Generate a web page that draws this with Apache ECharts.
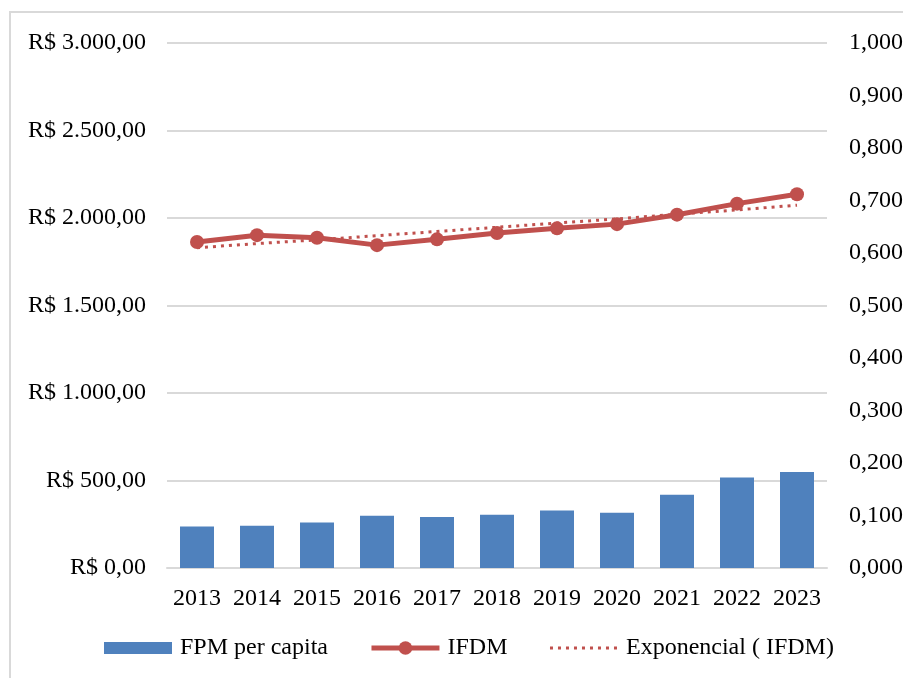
<!DOCTYPE html>
<html>
<head>
<meta charset="utf-8">
<script src="https://cdn.jsdelivr.net/npm/echarts@6/dist/echarts.min.js"></script>
<style>
  html, body { margin: 0; padding: 0; background: #fff; }
  #chart { width: 903px; height: 678px; }
</style>
</head>
<body>
<div id="chart"></div>
<script>
// Years on the category axis
const years = ['2013', '2014', '2015', '2016', '2017', '2018', '2019', '2020', '2021', '2022', '2023'];
// FPM per capita (R$)
const fpmPerCapita = [237, 241, 260, 298, 291, 304, 329, 316, 418, 517, 548];
// IFDM index
const ifdm = [0.621, 0.634, 0.629, 0.615, 0.626, 0.638, 0.647, 0.655, 0.673, 0.694, 0.712];
// Exponential trend line of IFDM
const ifdmTrend = [0.610, 0.618, 0.625, 0.633, 0.641, 0.649, 0.657, 0.665, 0.674, 0.682, 0.691];

const FONT = '"Liberation Serif", "Times New Roman", serif';
const BLUE = '#4f81bd';
const RED = '#c0504d';
const GRID = '#d9d9d9';

function brl(v) {
  const s = Math.round(v).toString().replace(/\B(?=(\d{3})+(?!\d))/g, '.');
  return 'R$ ' + s + ',00';
}

const chart = echarts.init(document.getElementById('chart'), null, { renderer: 'canvas' });
chart.setOption({
  animation: false,
  backgroundColor: '#ffffff',
  textStyle: { fontFamily: FONT, color: '#000' },
  graphic: [{
    type: 'rect',
    shape: { x: 10, y: 12, width: 900, height: 680 },
    style: { fill: 'none', stroke: GRID, lineWidth: 2 },
    silent: true
  }],
  grid: { left: 167, right: 76, top: 43, bottom: 110, containLabel: false, outerBoundsMode: 'none' },
  legend: {
    left: 104,
    top: 636,
    padding: 0,
    itemWidth: 68,
    itemHeight: 17,
    itemGap: 41,
    symbolKeepAspect: true,
    textStyle: { fontFamily: FONT, fontSize: 24, color: '#000', padding: [0, 0, 0, 3] },
    data: [
      { name: 'FPM per capita', icon: 'path://M0,0L68,0L68,12L0,12Z' },
      { name: 'IFDM', lineStyle: { width: 5 } },
      { name: 'Exponencial ( IFDM)', lineStyle: { width: 3 }, itemStyle: { opacity: 0 } }
    ]
  },
  xAxis: {
    type: 'category',
    data: years,
    axisLine: { show: true, lineStyle: { color: GRID, width: 2 } },
    axisTick: { show: false },
    axisLabel: { fontFamily: FONT, fontSize: 24, color: '#000', margin: 19, interval: 0 }
  },
  yAxis: [{
    type: 'value',
    min: 0, max: 3000, interval: 500,
    axisLine: { show: false },
    axisTick: { show: false },
    splitLine: { lineStyle: { color: GRID, width: 2 } },
    axisLabel: { fontFamily: FONT, fontSize: 24, color: '#000', margin: 21, formatter: brl }
  }, {
    type: 'value',
    min: 0, max: 1, interval: 0.1,
    position: 'right',
    axisLine: { show: false },
    axisTick: { show: false },
    splitLine: { show: false },
    axisLabel: {
      fontFamily: FONT, fontSize: 24, color: '#000', margin: 22,
      formatter: v => v.toFixed(3).replace('.', ',')
    }
  }],
  series: [{
    name: 'FPM per capita',
    type: 'bar',
    data: fpmPerCapita,
    barWidth: 34,
    itemStyle: { color: BLUE },
    yAxisIndex: 0
  }, {
    name: 'Exponencial ( IFDM)',
    type: 'line',
    data: ifdmTrend,
    yAxisIndex: 1,
    symbol: 'none',
    itemStyle: { color: RED },
    lineStyle: { color: RED, width: 3, type: [3, 5] },
    z: 3
  }, {
    name: 'IFDM',
    type: 'line',
    data: ifdm,
    yAxisIndex: 1,
    symbol: 'circle',
    symbolSize: 14,
    itemStyle: { color: RED },
    lineStyle: { color: RED, width: 5 },
    z: 4
  }]
});
</script>
</body>
</html>
